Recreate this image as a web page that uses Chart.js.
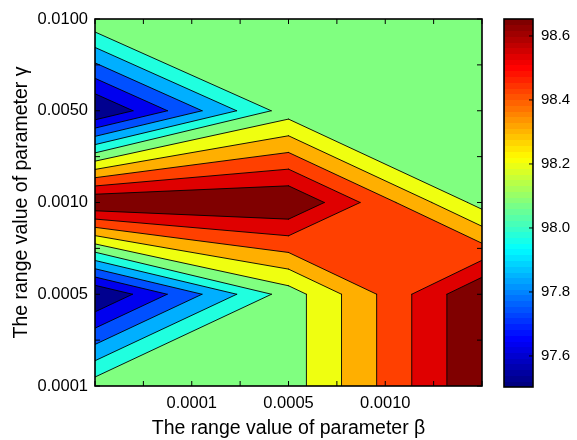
<!DOCTYPE html>
<html>
<head>
<meta charset="utf-8">
<script src="https://cdn.jsdelivr.net/npm/chart.js@4.4.1/dist/chart.umd.min.js"></script>
<style>
  html, body { margin: 0; padding: 0; background: #fff; }
  #wrap { width: 577px; height: 440px; display: flex; }
  canvas { display: block; }
</style>
</head>
<body>
<div id="wrap">
  <canvas id="contour" width="490" height="440"></canvas>
  <canvas id="colorbar" width="87" height="440"></canvas>
</div>
<script>
// grid columns / rows in axis units, and the tick labels of both axes
const BETA_NODES  = [0, 4, 8];
const GAMMA_NODES = [0, 2, 4, 6, 8];          // bottom -> top
const BETA_TICKS  = ["", "", "0.0001", "", "0.0005", "", "0.0010", "", ""];
const GAMMA_TICKS = ["0.0001", "", "0.0005", "", "0.0010", "", "0.0050", "", "0.0100"];

// accuracy (%) at each grid node, one row per gamma value
const ACC_G0001 = [98.055, 98.049, 98.600];
const ACC_G0005 = [97.492, 98.049, 98.600];
const ACC_G0010 = [98.600, 98.600, 98.060];
const ACC_G0050 = [97.490, 98.050, 98.060];
const ACC_G0100 = [98.084, 98.070, 98.070];

// contour levels and colour bar
const LEVELS   = [97.6, 97.7, 97.8, 97.9, 98.0, 98.1, 98.2, 98.3, 98.4, 98.5];
const CB_TICKS = [97.6, 97.8, 98.0, 98.2, 98.4, 98.6];
const CB_MIN = 97.503, CB_MAX = 98.653;

// fill colour of each band (below first level ... above last level)
const BAND_COLORS = ["#00008f", "#0000ef", "#0050ff", "#00afff", "#20ffdf", "#80ff80",
                     "#efff10", "#ffaf00", "#ff4000", "#df0000", "#800000"];

Chart.defaults.font.family = "'Liberation Sans', Arial, Helvetica, sans-serif";
Chart.defaults.color = "#000";

const ROWS = [ACC_G0001, ACC_G0005, ACC_G0010, ACC_G0050, ACC_G0100];

// matlab jet(64)
function jet(i, n) {
  const v = n > 1 ? i / (n - 1) : 0;
  const f = t => Math.round(255 * Math.max(0, Math.min(1, 1.5 - Math.abs(4 * v - t))));
  return "rgb(" + f(3) + "," + f(2) + "," + f(1) + ")";
}

function cross(a, b, lev) {
  const t = (lev - a.v) / (b.v - a.v);
  return { x: a.x + t * (b.x - a.x), y: a.y + t * (b.y - a.y), c: true };
}

// part of one grid cell where value >= lev (marching squares, centre decides saddles)
function clipCell(p, lev) {
  const hi = p.map(q => q.v >= lev);
  const n = hi.filter(Boolean).length;
  if (n === 0) return { polys: [], segs: [] };
  if (n === 4) return { polys: [p], segs: [] };
  const centre = (p[0].v + p[1].v + p[2].v + p[3].v) / 4;
  const polys = [], segs = [];
  if (n === 2 && hi[0] === hi[2] && centre < lev) {
    for (let k = 0; k < 4; k++) {
      if (!hi[k]) continue;
      const a = cross(p[(k + 3) % 4], p[k], lev);
      const b = cross(p[k], p[(k + 1) % 4], lev);
      polys.push([a, p[k], b]);
      segs.push([b, a]);
    }
    return { polys, segs };
  }
  const poly = [];
  for (let k = 0; k < 4; k++) {
    const k2 = (k + 1) % 4;
    if (hi[k]) poly.push(p[k]);
    if (hi[k] !== hi[k2]) poly.push(cross(p[k], p[k2], lev));
  }
  for (let k = 0; k < poly.length; k++) {
    const a = poly[k], b = poly[(k + 1) % poly.length];
    if (a.c && b.c) segs.push([a, b]);
  }
  return { polys: [poly], segs };
}

const contourPlugin = {
  id: "contourFill",
  beforeDatasetsDraw(chart) {
    const { ctx, chartArea: a, scales: { x, y } } = chart;
    const px = p => [x.getPixelForValue(p.x), y.getPixelForValue(p.y)];
    const node = (i, j) => ({ x: BETA_NODES[i], y: GAMMA_NODES[j], v: ROWS[j][i] });

    ctx.save();
    ctx.beginPath();
    ctx.rect(a.left, a.top, a.width, a.height);
    ctx.clip();
    ctx.fillStyle = BAND_COLORS[0];
    ctx.fillRect(a.left, a.top, a.width, a.height);

    const lines = [];
    LEVELS.forEach((lev, k) => {
      ctx.beginPath();
      for (let j = 0; j < GAMMA_NODES.length - 1; j++) {
        for (let i = 0; i < BETA_NODES.length - 1; i++) {
          const cell = [node(i, j), node(i + 1, j), node(i + 1, j + 1), node(i, j + 1)];
          const res = clipCell(cell, lev);
          res.polys.forEach(poly => {
            poly.forEach((p, m) => {
              const [u, w] = px(p);
              if (m === 0) ctx.moveTo(u, w); else ctx.lineTo(u, w);
            });
            ctx.closePath();
          });
          lines.push(...res.segs);
        }
      }
      ctx.fillStyle = BAND_COLORS[k + 1];
      ctx.fill();
    });

    ctx.beginPath();
    lines.forEach(([p, q]) => {
      const [u1, w1] = px(p), [u2, w2] = px(q);
      ctx.moveTo(u1, w1);
      ctx.lineTo(u2, w2);
    });
    ctx.strokeStyle = "#000";
    ctx.lineWidth = 0.9;
    ctx.lineCap = "round";
    ctx.stroke();
    ctx.restore();
  },
  afterDraw(chart) {
    // box and inward ticks on all four sides
    const { ctx, chartArea: a, scales: { x, y } } = chart;
    const len = 5;
    ctx.save();
    ctx.strokeStyle = "#000";
    ctx.lineWidth = 1;
    ctx.beginPath();
    x.ticks.forEach(t => {
      const u = x.getPixelForValue(t.value);
      ctx.moveTo(u, a.bottom); ctx.lineTo(u, a.bottom - len);
      ctx.moveTo(u, a.top);    ctx.lineTo(u, a.top + len);
    });
    y.ticks.forEach(t => {
      const w = y.getPixelForValue(t.value);
      ctx.moveTo(a.left, w);  ctx.lineTo(a.left + len, w);
      ctx.moveTo(a.right, w); ctx.lineTo(a.right - len, w);
    });
    ctx.stroke();
    ctx.lineWidth = 1.6;
    ctx.strokeRect(a.left, a.top, a.width, a.height);
    ctx.restore();
  }
};

new Chart(document.getElementById("contour"), {
  type: "scatter",
  data: { datasets: [] },
  options: {
    responsive: false,
    animation: false,
    layout: { padding: { top: 19, right: 8, left: 0, bottom: 0 } },
    plugins: { legend: { display: false }, tooltip: { enabled: false } },
    scales: {
      x: {
        min: 0, max: 8,
        afterFit: s => { s.height = 54; },
        grid: { display: false, drawTicks: false },
        border: { display: false },
        ticks: {
          stepSize: 1, autoSkip: false, maxRotation: 0, padding: 8,
          font: { size: 16.5 },
          callback: v => BETA_TICKS[Math.round(v)] || ""
        },
        title: {
          display: true, text: "The range value of parameter β",
          font: { size: 19.5 }, padding: { top: 0, bottom: 0 }
        }
      },
      y: {
        min: 0, max: 8,
        afterFit: s => { s.width = 95; },
        grid: { display: false, drawTicks: false },
        border: { display: false },
        ticks: {
          stepSize: 1, autoSkip: false, padding: 7,
          font: { size: 16.5 },
          callback: v => GAMMA_TICKS[Math.round(v)] || ""
        },
        title: {
          display: true, text: "The range value of parameter γ",
          font: { size: 19.5 }, padding: { top: 10, bottom: 0 }
        }
      }
    }
  },
  plugins: [contourPlugin]
});

const colorbarPlugin = {
  id: "colorbar",
  beforeDatasetsDraw(chart) {
    const { ctx, chartArea: a, scales: { y } } = chart;
    const n = 64, step = (CB_MAX - CB_MIN) / n;
    ctx.save();
    for (let i = 0; i < n; i++) {
      const top = y.getPixelForValue(CB_MIN + (i + 1) * step);
      const bot = y.getPixelForValue(CB_MIN + i * step);
      ctx.fillStyle = jet(i, n);
      ctx.fillRect(a.left, Math.floor(top), a.width, Math.ceil(bot) - Math.floor(top));
    }
    ctx.strokeStyle = "#000";
    ctx.lineWidth = 1;
    ctx.beginPath();
    y.ticks.forEach(t => {
      const w = y.getPixelForValue(t.value);
      ctx.moveTo(a.right, w); ctx.lineTo(a.right - 4, w);
    });
    ctx.stroke();
    ctx.lineWidth = 1.6;
    ctx.strokeRect(a.left, a.top, a.width, a.height);
    ctx.restore();
  }
};

new Chart(document.getElementById("colorbar"), {
  type: "scatter",
  data: { datasets: [] },
  options: {
    responsive: false,
    animation: false,
    layout: { padding: { left: 14, top: 19, bottom: 53, right: 0 } },
    plugins: { legend: { display: false }, tooltip: { enabled: false } },
    scales: {
      x: { display: false, min: 0, max: 1 },
      y: {
        position: "right",
        min: CB_MIN, max: CB_MAX,
        afterFit: s => { s.width = 44; },
        afterBuildTicks: s => { s.ticks = CB_TICKS.map(v => ({ value: v })); },
        grid: { display: false, drawTicks: false },
        border: { display: false },
        ticks: { padding: 8, font: { size: 15 }, callback: v => v.toFixed(1) }
      }
    }
  },
  plugins: [colorbarPlugin]
});
</script>
</body>
</html>
